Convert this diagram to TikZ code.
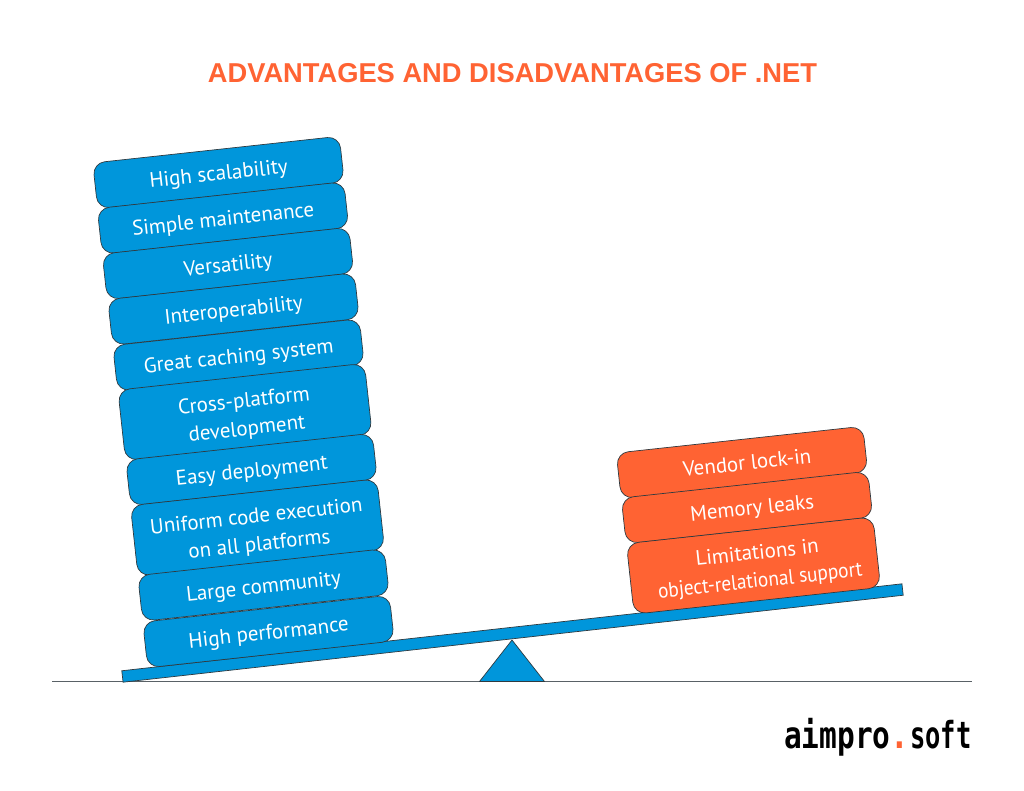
\documentclass[tikz,border=0pt]{standalone}
\usepackage{fontspec}
\setmainfont{PT Sans}
\newfontfamily\titlefont{Liberation Sans}
\newfontfamily\logofont{DejaVu Sans Mono}
\definecolor{netblue}{HTML}{0096DB}
\definecolor{netorange}{HTML}{FF6333}
\definecolor{edgegrey}{HTML}{2F3A40}
\tikzset{
  stackbox/.style={draw=edgegrey,line width=0.7pt,rounded corners=12pt,rotate=6.2,
    minimum width=248pt,inner sep=0pt,align=center,text=white,
    font=\fontsize{21}{28}\selectfont},
  pro/.style={stackbox,fill=netblue},
  con/.style={stackbox,fill=netorange},
  single/.style={minimum height=46pt,text height=21pt,text depth=5pt},
  double/.style={minimum height=71pt},
  logotext/.style={anchor=base west,inner sep=0pt,font=\logofont\bfseries\fontsize{31}{31}\selectfont,yscale=1.2,transform shape},
}
\begin{document}
\begin{tikzpicture}[x=1pt,y=-1pt]
\useasboundingbox (0,0) rectangle (1024,790);
\node[anchor=center,text=netorange,font=\titlefont\bfseries\fontsize{27.3}{32}\selectfont] (title) at (512.5,73) {ADVANTAGES AND DISADVANTAGES OF .NET};
\coordinate (gl) at (52,681.5);
\coordinate (gr) at (972,681.5);
\draw[line width=1pt,draw=edgegrey!80] (gl) -- (gr);
\draw[fill=netblue,draw=edgegrey,line width=0.7pt] (512,640) -- (544.5,681.5) -- (479.5,681.5) -- cycle;
\node[draw=edgegrey,fill=netblue,line width=0.7pt,rotate=6.36,minimum width=785pt,minimum height=11.5pt,inner sep=0pt] (beam) at (512.5,633) {};
\node[pro,single] (p1) at (218.5,172.5) {High scalability};
\node[pro,single] (p2) at (223,218) {Simple maintenance};
\node[pro,single] (p3) at (228,263.5) {Versatility};
\node[pro,single] (p4) at (233.5,309) {Interoperability};
\node[pro,single] (p5) at (238.5,355) {Great caching system};
\node[pro,double] (p6) at (245,412) {\rule{0pt}{23pt}Cross-platform\\development};
\node[pro,single] (p7) at (251.5,469.5) {Easy deployment};
\node[pro,double] (p8) at (257.5,527.5) {\rule{0pt}{23pt}Uniform code execution\\on all platforms};
\node[pro,single] (p9) at (263.5,585) {Large community};
\node[pro,single] (p10) at (268.5,631.5) {High performance};
\node[con,single] (c1) at (742,462.5) {\hspace*{10pt}Vendor lock-in};
\node[con,single] (c2) at (747,507.5) {\hspace*{10pt}Memory leaks};
\node[con,double] (c3) at (753.5,565.5) {\rule{0pt}{21pt}\hspace*{10pt}Limitations in\\\hspace*{10pt}\scalebox{0.92}[1]{object-relational support}};
\node[logotext,xscale=0.95] (logoa) at (784,748) {aimpro};
\node[logotext,text=netorange] (logod) at (890,748) {.};
\node[logotext,xscale=0.82] (logob) at (910,748) {soft};
\end{tikzpicture}
\end{document}
